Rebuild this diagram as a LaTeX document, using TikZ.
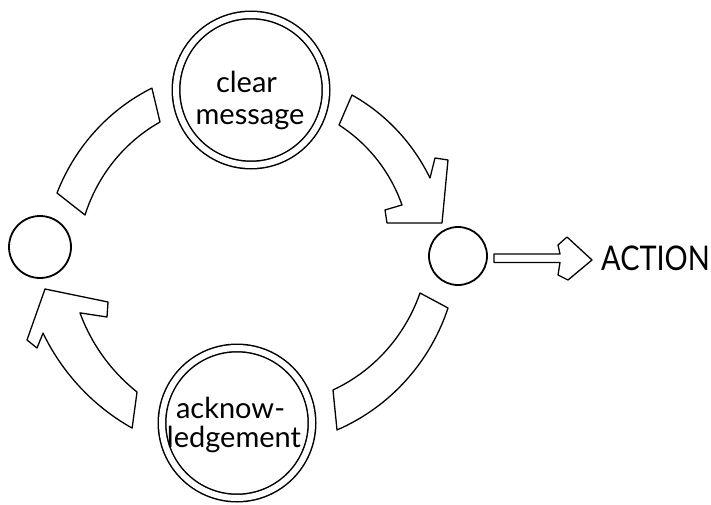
\documentclass[tikz,border=0pt]{standalone}
\usepackage{fontspec}
\setmainfont{Lato}
\begin{document}
\begin{tikzpicture}[x=1pt,y=1pt,
  band/.style={draw=black, line width=1.3pt, line join=round, fill=white},
  ring/.style={circle, draw=black, line width=1.5pt, double=white, double distance=6pt, minimum size=150pt, inner sep=0pt},
  dot/.style={circle, draw=black, line width=1.8pt, inner sep=0pt},
  lbl/.style={font=\fontsize{29}{32}\selectfont, inner sep=0pt, anchor=base}]
\useasboundingbox (0,0) rectangle (711,504);
% circles
\node[ring] (msg) at (251,414) {};
\node[ring] (ack) at (237,81) {};
\node[dot, minimum size=62pt] (left) at (40,257) {};
\node[dot, minimum size=58pt] (right) at (458,248) {};
% labels
\node[lbl] (t1) at (246.5,411) {clear};
\node[lbl] (t2) at (250,379) {message};
\node[lbl] (t3) at (230.5,86) {acknow-};
\node[lbl] (t4) at (234,57) {ledgement};
% bands
\begin{scope}[shift={(250,252)}]
\draw[band] plot[domain=120.9:163, samples=30, variable=\t] (\t:{191+(\t-120.9)/42.1*10.8})
  -- plot[domain=167.36:124.7, samples=30, variable=\t] (\t:{169.1+(\t-167.36)/(124.7-167.36)*(158.1-169.1)}) -- cycle;
\draw[band] plot[domain=57:22.35, samples=30, variable=\t] (\t:{187.2+(\t-57)/(22.35-57)*(194.6-187.2)})
  -- (185,94) -- (198,92) -- (192,29) -- (137,29) -- (135,42)
  -- plot[domain=17.2:54.97, samples=30, variable=\t] (\t:{159.1+(\t-17.2)/(54.97-17.2)*(155.1-159.1)}) -- cycle;
\draw[band] plot[domain=236.2:201.4, samples=30, variable=\t] (\t:{211.9+(\t-236.2)/(201.4-236.2)*(222.3-211.9)})
  -- (-213,-96) -- (-223,-88) -- (-205,-37) -- (-142,-50) -- (-143,-65)
  -- plot[domain=199.7:231.1, samples=30, variable=\t] (\t:{180.6+(\t-199.7)/(231.1-199.7)*(179.9-180.6)}) -- cycle;
\draw[band] plot[domain=-15.79:-63.95, samples=30, variable=\t] (\t:{205.8+(\t+15.79)/(-63.95+15.79)*(198.1-205.8)})
  -- plot[domain=-58.97:-13.56, samples=30, variable=\t] (\t:{161+(\t+58.97)/(-13.56+58.97)*(174.9-161)}) -- cycle;
\end{scope}
% action arrow
\coordinate (s0) at ([xshift=6pt]right.east);
\draw[band] (s0 |- 0,250) -- (560,250) -- (558,259) -- (567,267) -- (592,244) -- (568,224) -- (558,229) -- (560,241.5) -- (s0 |- 0,241.5) -- cycle;
\node[font=\fontsize{34}{36}\selectfont, inner sep=0pt, anchor=base west] (act) at (601,234) {\scalebox{0.85}[1]{ACTION}};
\end{tikzpicture}
\end{document}
